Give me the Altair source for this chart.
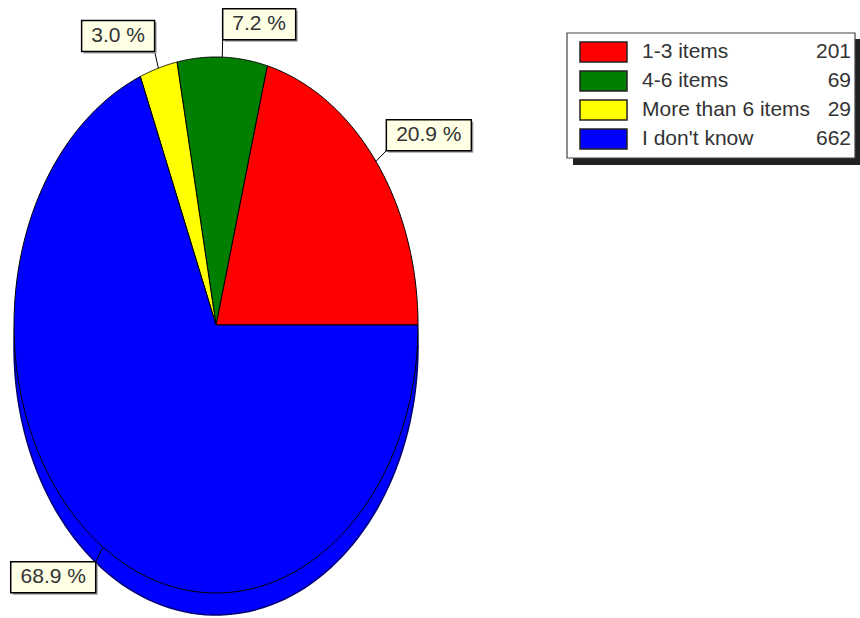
import altair as alt
import pandas as pd

# ---- data ----
categories = ["1-3 items", "4-6 items", "More than 6 items", "I don't know"]
counts = [201, 69, 29, 662]
colors = ["#FF0000", "#007F00", "#FFFF00", "#0000FF"]

# ---- layout / style constants ----
W, H = 860, 618
CX, CY, RX, RY = 216, 325, 202, 268
DEPTH = 22
N = 120
FONT = "Liberation Sans"

df = pd.DataFrame({"category": categories, "count": counts,
                   "idx": list(range(len(categories)))})

xs = alt.Scale(domain=[0, W], range=[0, W], nice=False, zero=False)
ys = alt.Scale(domain=[0, H], range=[0, H], nice=False, zero=False)
cs = alt.Scale(domain=categories, range=colors)

base = (
    alt.Chart(df)
    .transform_joinaggregate(total="sum(count)")
    .transform_window(cum="sum(count)", sort=[alt.SortField("idx")], frame=[None, 0])
    .transform_calculate(
        a0="2*PI*(datum.cum - datum.count)/datum.total",
        a1="2*PI*datum.cum/datum.total",
    )
    .transform_calculate(
        amid="(datum.a0 + datum.a1)/2",
        pct="format(100*datum.count/datum.total, '.1f') + ' %'",
    )
)

poly = (
    base.transform_calculate(k=f"sequence(-1, {N + 2})")
    .transform_flatten(["k"])
    .transform_calculate(
        a=f"datum.a0 + (datum.a1 - datum.a0) * clamp(datum.k, 0, {N}) / {N}",
    )
    .transform_calculate(
        px=f"(datum.k < 0 || datum.k > {N}) ? {CX} : {CX} + {RX}*cos(datum.a)",
        py=f"(datum.k < 0 || datum.k > {N}) ? {CY} : {CY} - {RY}*sin(datum.a)",
    )
    .transform_calculate(py2=f"datum.py + {DEPTH}")
)

depth = poly.mark_line(stroke="#000070", strokeWidth=1.5, strokeJoin="round").encode(
    x=alt.X("px:Q", scale=xs, axis=None),
    y=alt.Y("py2:Q", scale=ys, axis=None),
    fill=alt.Fill("category:N", scale=cs, legend=None),
    detail="category:N",
    order=alt.Order("k:Q"),
)

top = poly.mark_line(stroke="#000000", strokeWidth=1, strokeJoin="round").encode(
    x=alt.X("px:Q", scale=xs, axis=None),
    y=alt.Y("py:Q", scale=ys, axis=None),
    fill=alt.Fill("category:N", scale=cs, legend=None),
    detail="category:N",
    order=alt.Order("k:Q"),
)

lab = base.transform_calculate(
    ex=f"{CX} + {RX}*cos(datum.amid)",
    ey=f"{CY} - {RY}*sin(datum.amid)",
    ax=f"{CX} + {RX}*1.065*cos(datum.amid)",
    ay=f"{CY} - {RY}*1.065*sin(datum.amid)",
    bw="12*length(datum.pct) + 13",
).transform_calculate(
    bx2="cos(datum.amid) >= 0 ? datum.ax + datum.bw : datum.ax - datum.bw",
    by2="sin(datum.amid) >= 0 ? datum.ay - 31 : datum.ay + 31",
).transform_calculate(
    tx="(datum.ax + datum.bx2)/2",
    ty="(datum.ay + datum.by2)/2",
)

leader = lab.mark_rule(color="#000000", strokeWidth=1).encode(
    x=alt.X("ax:Q", scale=xs, axis=None), x2="ex:Q",
    y=alt.Y("ay:Q", scale=ys, axis=None), y2="ey:Q",
)
box_shadow = lab.mark_rect(color="#a0a0a0", xOffset=2, x2Offset=2, yOffset=2, y2Offset=2).encode(
    x=alt.X("ax:Q", scale=xs, axis=None), x2="bx2:Q",
    y=alt.Y("ay:Q", scale=ys, axis=None), y2="by2:Q",
)
box = lab.mark_rect(fill="#FFFFE6", stroke="#000000", strokeWidth=1.5).encode(
    x=alt.X("ax:Q", scale=xs, axis=None), x2="bx2:Q",
    y=alt.Y("ay:Q", scale=ys, axis=None), y2="by2:Q",
)
box_text = lab.mark_text(font=FONT, fontSize=21, color="#333333", align="center",
                         baseline="middle").encode(
    x=alt.X("tx:Q", scale=xs, axis=None),
    y=alt.Y("ty:Q", scale=ys, axis=None),
    text="pct:N",
)

# ---- legend ----
leg_shadow = alt.Chart(df).mark_rect(fill="#222222").encode(
    x=alt.value(573), x2=alt.value(861), y=alt.value(39), y2=alt.value(165)
).transform_filter("datum.idx == 0")
leg_frame = alt.Chart(df).mark_rect(fill="#FFFFFF", stroke="#444444", strokeWidth=1.2).encode(
    x=alt.value(567), x2=alt.value(855), y=alt.value(33), y2=alt.value(158)
).transform_filter("datum.idx == 0")

leg = alt.Chart(df).transform_calculate(
    rowy="52 + 29*datum.idx", sy0="42 + 29*datum.idx", sy1="62 + 29*datum.idx"
)
leg_sw = leg.mark_rect(stroke="#222222", strokeWidth=1.5).encode(
    x=alt.value(580), x2=alt.value(627),
    y=alt.Y("sy0:Q", scale=ys, axis=None), y2="sy1:Q",
    fill=alt.Fill("category:N", scale=cs, legend=None),
)
leg_lbl = leg.mark_text(font=FONT, fontSize=21, color="#333333", align="left",
                        baseline="middle").encode(
    x=alt.value(642), y=alt.Y("rowy:Q", scale=ys, axis=None), text="category:N"
)
leg_cnt = leg.mark_text(font=FONT, fontSize=21, color="#333333", align="right",
                        baseline="middle").encode(
    x=alt.value(851), y=alt.Y("rowy:Q", scale=ys, axis=None), text="count:Q"
)

chart = alt.layer(
    depth, top, leader, box_shadow, box, box_text,
    leg_shadow, leg_frame, leg_sw, leg_lbl, leg_cnt,
).properties(
    width=W, height=H, autosize="none", padding=0, background="#FFFFFF"
).configure_view(stroke=None)

chart.save("out.html", embed_options={"renderer": "svg", "actions": False})
